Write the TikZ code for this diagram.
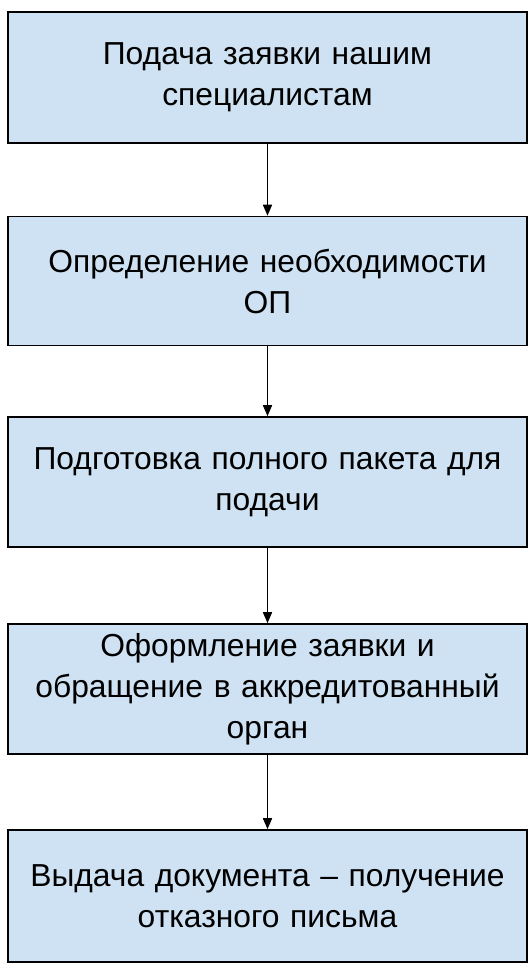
\documentclass[tikz,border=0pt]{standalone}
\usepackage{fontspec}
\setmainfont{Liberation Sans}
\usetikzlibrary{arrows.meta}
\definecolor{boxfill}{HTML}{CFE2F3}
\tikzset{
  stepbox/.style={draw=black, line width=1.6pt, fill=boxfill, minimum width=519pt,
    inner sep=0pt, text width=505pt, align=center,
    font=\fontsize{31.8pt}{41pt}\selectfont},
  conn/.style={line width=1.6pt, -{Triangle[length=11pt,width=9pt]}}
}
\begin{document}
\begin{tikzpicture}[x=1pt,y=1pt]
\useasboundingbox (0,0) rectangle (532,-970);
\fill[white] (0,0) rectangle (532,-970);
\node[stepbox, minimum height=131pt] (b1) at (267.5,-77.5) {Подача заявки нашим\\специалистам};
\node[stepbox, minimum height=129pt] (b2) at (267.5,-281) {Определение необходимости\\ОП};
\node[stepbox, minimum height=130pt] (b3) at (267.5,-482) {Подготовка полного пакета для\\подачи};
\node[stepbox, minimum height=130pt] (b4) at (267.5,-689) {Оформление заявки и\\обращение в аккредитованный\\орган};
\node[stepbox, minimum height=132pt] (b5) at (267.5,-896) {Выдача документа -- получение\\отказного письма};
\draw[conn] (b1.south) -- (b2.north);
\draw[conn] (b2.south) -- (b3.north);
\draw[conn] (b3.south) -- (b4.north);
\draw[conn] (b4.south) -- (b5.north);
\end{tikzpicture}
\end{document}
